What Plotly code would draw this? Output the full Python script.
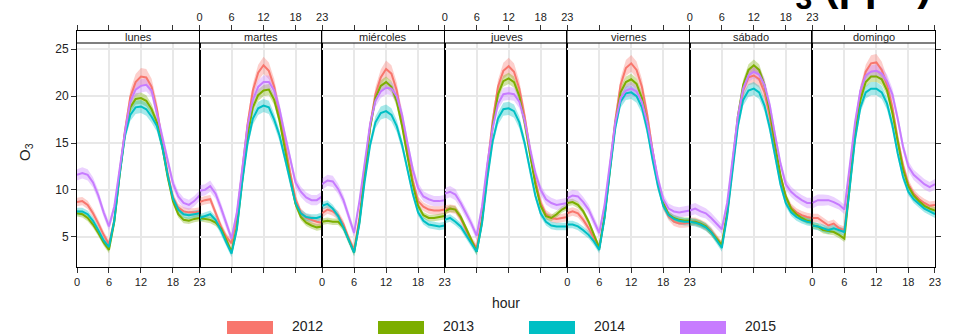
import plotly.graph_objects as go

hours = list(range(24))
days = ["lunes", "martes", "miércoles", "jueves", "viernes", "sábado", "domingo"]
years = ["2012", "2013", "2014", "2015"]
colors = ["#F8766D", "#7CAE00", "#00BFC4", "#C77CFF"]
band_colors = ["rgba(248,118,109,0.35)", "rgba(124,174,0,0.35)",
               "rgba(0,191,196,0.35)", "rgba(199,124,255,0.35)"]
x_tickvals = [0, 6, 12, 18, 23]
x_ticktext = ["0", "6", "12", "18", "23"]
y_tickvals = [5, 10, 15, 20, 25]

o3_2012 = {
    "lunes":     [8.7, 8.8, 8.4, 7.5, 6.4, 5.2, 4.2, 6.8, 11.8, 16.3, 19.9, 21.5, 22.1, 22.0, 21.0, 18.6, 15.0, 11.8, 9.2, 8.1, 7.7, 7.6, 7.6, 7.7],
    "martes":    [8.7, 8.9, 9.0, 7.6, 6.1, 5.0, 4.3, 7.0, 12.0, 17.0, 20.6, 22.5, 23.3, 22.7, 21.0, 18.2, 15.0, 11.8, 9.0, 7.6, 7.0, 6.8, 6.6, 6.5],
    "miércoles": [7.5, 7.9, 7.7, 7.3, 6.3, 4.8, 3.6, 7.0, 12.0, 16.8, 20.2, 22.0, 22.9, 22.4, 20.6, 17.6, 14.2, 11.0, 8.8, 8.2, 7.9, 7.8, 7.8, 7.9],
    "jueves":    [7.9, 8.0, 7.9, 7.0, 5.7, 4.6, 3.8, 7.0, 12.4, 17.4, 21.0, 22.7, 23.2, 22.6, 20.8, 17.8, 14.2, 11.0, 8.6, 7.4, 7.0, 6.9, 7.0, 7.1],
    "viernes":   [7.5, 7.7, 7.5, 6.8, 5.9, 4.8, 3.8, 7.2, 12.4, 17.4, 21.2, 23.0, 23.5, 22.8, 21.0, 18.0, 14.2, 10.8, 8.4, 7.2, 6.6, 6.4, 6.4, 6.5],
    "sábado":    [6.6, 6.6, 6.4, 6.1, 5.6, 4.9, 4.1, 7.4, 12.4, 17.2, 20.6, 22.0, 22.2, 21.8, 20.4, 17.8, 14.4, 11.2, 9.2, 8.1, 7.6, 7.3, 7.1, 7.0],
    "domingo":   [7.0, 7.0, 6.6, 6.2, 6.4, 5.9, 5.7, 11.0, 16.4, 20.4, 22.6, 23.5, 23.6, 22.8, 21.2, 18.8, 15.4, 12.6, 10.6, 9.6, 9.0, 8.6, 8.3, 8.4],
}
o3_2013 = {
    "lunes":     [7.5, 7.4, 7.0, 6.3, 5.4, 4.4, 3.6, 6.6, 11.6, 16.0, 18.8, 19.7, 19.8, 19.5, 18.6, 17.2, 14.6, 11.4, 8.8, 7.4, 6.8, 6.7, 6.9, 7.0],
    "martes":    [7.0, 6.9, 6.8, 6.5, 5.9, 4.7, 3.4, 6.0, 11.0, 15.8, 18.8, 20.1, 20.6, 20.7, 19.6, 17.4, 14.4, 11.2, 8.5, 7.1, 6.5, 6.2, 6.0, 6.1],
    "miércoles": [6.6, 6.7, 6.6, 6.6, 6.0, 4.6, 3.3, 6.6, 11.8, 16.6, 19.8, 21.1, 21.5, 21.0, 19.4, 16.8, 13.6, 10.6, 8.3, 7.3, 7.0, 7.0, 7.1, 7.2],
    "jueves":    [7.7, 8.0, 7.9, 7.1, 5.9, 4.6, 3.4, 6.6, 12.0, 16.8, 20.2, 21.6, 21.9, 21.5, 20.0, 17.2, 13.8, 10.6, 8.3, 7.2, 7.0, 7.4, 7.9, 8.2],
    "viernes":   [8.6, 8.7, 8.4, 7.7, 6.6, 5.2, 3.8, 7.2, 12.2, 17.0, 20.4, 21.5, 21.8, 21.3, 19.8, 17.2, 13.8, 10.8, 8.6, 7.4, 7.0, 6.8, 6.7, 6.7],
    "sábado":    [6.6, 6.6, 6.4, 6.1, 5.5, 4.8, 4.1, 7.6, 12.8, 17.8, 21.2, 22.8, 23.3, 22.8, 21.2, 18.4, 14.8, 11.6, 9.3, 8.0, 7.4, 7.0, 6.7, 6.6],
    "domingo":   [6.2, 6.1, 5.7, 5.6, 5.5, 5.2, 4.8, 10.4, 15.8, 19.6, 21.5, 22.1, 22.1, 21.8, 20.6, 18.2, 15.0, 12.2, 10.4, 9.4, 8.8, 8.3, 8.0, 7.8],
}
o3_2014 = {
    "lunes":     [7.7, 7.7, 7.4, 6.7, 5.7, 4.6, 3.9, 6.7, 11.6, 15.8, 18.0, 18.8, 18.9, 18.6, 17.8, 16.8, 14.6, 11.6, 9.1, 7.9, 7.4, 7.3, 7.4, 7.5],
    "martes":    [7.0, 7.2, 7.4, 6.8, 5.7, 4.4, 3.2, 5.8, 10.8, 15.0, 17.6, 18.7, 19.0, 18.8, 17.5, 15.8, 13.4, 10.8, 8.6, 7.5, 7.1, 7.0, 7.0, 7.2],
    "miércoles": [8.3, 8.5, 8.0, 7.2, 6.0, 4.6, 3.3, 6.4, 11.0, 14.8, 17.2, 18.2, 18.4, 18.0, 16.8, 14.8, 12.2, 9.6, 7.6, 6.7, 6.3, 6.2, 6.1, 6.2],
    "jueves":    [6.8, 7.0, 6.6, 6.1, 5.2, 4.3, 3.4, 6.4, 11.2, 15.2, 17.6, 18.6, 18.7, 18.4, 17.2, 15.0, 12.0, 9.4, 7.5, 6.6, 6.2, 6.1, 6.1, 6.1],
    "viernes":   [6.3, 6.3, 6.1, 5.7, 5.2, 4.5, 3.6, 7.0, 12.0, 16.6, 19.4, 20.3, 20.4, 20.0, 18.8, 16.4, 13.2, 10.4, 8.3, 7.3, 6.9, 6.7, 6.6, 6.6],
    "sábado":    [6.6, 6.5, 6.3, 6.0, 5.5, 4.7, 3.8, 7.2, 12.2, 16.8, 19.6, 20.6, 20.8, 20.4, 19.0, 16.6, 13.6, 10.6, 8.6, 7.6, 7.1, 6.8, 6.6, 6.5],
    "domingo":   [6.2, 6.1, 5.9, 5.7, 5.9, 5.7, 5.5, 10.2, 15.4, 18.8, 20.4, 20.8, 20.8, 20.4, 19.2, 16.9, 13.9, 11.4, 9.8, 9.0, 8.5, 8.0, 7.7, 7.4],
}
o3_2015 = {
    "lunes":     [11.6, 11.8, 11.6, 10.8, 9.4, 7.6, 6.1, 8.2, 12.2, 16.2, 19.4, 20.7, 21.1, 21.2, 20.6, 18.2, 15.6, 13.2, 10.7, 9.3, 8.6, 8.4, 8.8, 9.4],
    "martes":    [9.9, 10.0, 10.4, 9.6, 8.1, 6.4, 4.8, 7.6, 12.4, 16.8, 19.6, 21.0, 21.5, 21.5, 20.6, 18.6, 15.9, 13.2, 10.8, 9.8, 9.2, 8.9, 8.9, 9.3],
    "miércoles": [10.6, 11.0, 10.9, 10.1, 8.9, 7.2, 5.4, 8.8, 13.2, 17.0, 19.5, 20.5, 20.9, 20.8, 20.0, 18.0, 15.0, 12.2, 10.2, 9.3, 9.0, 8.8, 8.8, 8.9],
    "jueves":    [9.6, 9.8, 9.5, 8.6, 7.5, 6.4, 5.1, 8.2, 12.8, 16.6, 19.2, 20.2, 20.3, 20.2, 19.4, 17.4, 14.4, 11.8, 10.0, 9.0, 8.6, 8.4, 8.5, 8.6],
    "viernes":   [9.1, 9.4, 9.3, 8.7, 7.9, 6.6, 5.4, 8.4, 13.0, 17.2, 19.8, 20.6, 20.8, 20.5, 19.4, 17.2, 14.2, 11.2, 9.0, 8.0, 7.7, 7.6, 7.7, 7.8],
    "sábado":    [7.8, 8.0, 7.7, 7.5, 7.0, 6.4, 5.8, 8.6, 13.2, 17.8, 20.8, 22.2, 22.6, 22.3, 21.2, 19.0, 15.8, 12.8, 10.6, 9.8, 9.3, 8.9, 8.6, 8.6],
    "domingo":   [8.6, 8.9, 8.9, 8.9, 8.7, 8.4, 7.9, 12.4, 17.2, 20.6, 22.2, 22.6, 22.7, 22.4, 21.6, 20.2, 17.6, 14.6, 12.5, 11.6, 11.1, 10.6, 10.3, 10.6],
}

# confidence-interval half widths by hour
ci_2012 = [0.45, 0.45, 0.45, 0.45, 0.45, 0.4, 0.4, 0.45, 0.55, 0.65, 0.75, 0.85, 0.9, 0.9, 0.85, 0.8, 0.7, 0.6, 0.5, 0.45, 0.45, 0.45, 0.45, 0.45]
ci_2013 = [0.35, 0.35, 0.35, 0.35, 0.35, 0.35, 0.35, 0.4, 0.45, 0.5, 0.55, 0.6, 0.6, 0.6, 0.55, 0.5, 0.45, 0.4, 0.35, 0.35, 0.35, 0.35, 0.35, 0.35]
ci_2014 = [0.4, 0.4, 0.4, 0.4, 0.4, 0.4, 0.4, 0.45, 0.5, 0.55, 0.65, 0.7, 0.7, 0.7, 0.65, 0.6, 0.5, 0.45, 0.4, 0.4, 0.4, 0.4, 0.4, 0.4]
ci_2015 = [0.6, 0.6, 0.6, 0.55, 0.55, 0.5, 0.5, 0.5, 0.55, 0.6, 0.65, 0.7, 0.7, 0.7, 0.7, 0.65, 0.6, 0.55, 0.55, 0.55, 0.55, 0.55, 0.55, 0.55]

series = [o3_2012, o3_2013, o3_2014, o3_2015]
cis = [ci_2012, ci_2013, ci_2014, ci_2015]

# layout constants (pixels)
W, H = 955, 334
ML, MR, MT, MB = 77, 20, 31, 67
Y_RANGE = [1.77, 26.95]
STRIP_BOTTOM = 25.67
FONT = "Liberation Sans, Arial, sans-serif"
TXT = "#222222"
GRID = "#e8e8e8"

def px_x(X):
    return (X - ML) / (W - ML - MR)

def px_y(Y):
    return (H - MB - Y) / (H - MT - MB)

fig = go.Figure()
n = len(days)
shapes = []
annotations = []

for i, day in enumerate(days):
    k = i + 1
    xa = "x" if k == 1 else f"x{k}"
    ya = "y" if k == 1 else f"y{k}"
    for s, ci, col, bcol, yr in zip(series, cis, colors, band_colors, years):
        vals = s[day]
        upper = [v + c for v, c in zip(vals, ci)]
        lower = [v - c for v, c in zip(vals, ci)]
        fig.add_trace(go.Scatter(
            x=hours + hours[::-1], y=upper + lower[::-1],
            fill="toself", fillcolor=bcol, line=dict(width=0),
            mode="lines", hoverinfo="skip", showlegend=False,
            xaxis=xa, yaxis=ya))
    for s, col, yr in zip(series, colors, years):
        fig.add_trace(go.Scatter(
            x=hours, y=s[day], mode="lines",
            line=dict(color=col, width=2), name=yr, showlegend=False,
            xaxis=xa, yaxis=ya))

    top_labels = (i % 2 == 1)
    xaxis = dict(
        domain=[i / n, (i + 1) / n], range=[0, 23], anchor=ya,
        tickvals=x_tickvals, ticktext=x_ticktext,
        side="top" if top_labels else "bottom",
        ticks="outside", ticklen=5, tickcolor="#333", tickwidth=1,
        showline=True, linecolor="black", linewidth=1, mirror="ticks",
        showgrid=True, gridcolor=GRID, gridwidth=1.5, zeroline=False,
        tickfont=dict(family=FONT, size=11, color=TXT),
    )
    yaxis = dict(
        domain=[0, 1], range=Y_RANGE, anchor=xa,
        tickvals=y_tickvals, showgrid=True, gridcolor=GRID, gridwidth=1.5,
        zeroline=False, showline=True, linecolor="black", linewidth=1,
        mirror=True, tickfont=dict(family=FONT, size=12, color=TXT),
    )
    if k == 1:
        yaxis.update(ticks="outside", ticklen=5, tickcolor="#333", showticklabels=True)
    elif k == n:
        yaxis.update(side="right", ticks="outside", ticklen=5, tickcolor="#333",
                     showticklabels=False)
    else:
        yaxis.update(ticks="", showticklabels=False)
    fig.layout["xaxis" if k == 1 else f"xaxis{k}"] = xaxis
    fig.layout["yaxis" if k == 1 else f"yaxis{k}"] = yaxis

    shapes.append(dict(type="rect", xref=xa, yref=ya, x0=0, x1=23,
                       y0=STRIP_BOTTOM, y1=Y_RANGE[1], fillcolor="white",
                       line=dict(width=0), layer="between"))
    annotations.append(dict(text=day, xref=xa, yref=ya, x=11.5,
                            y=(STRIP_BOTTOM + Y_RANGE[1]) / 2, showarrow=False,
                            xanchor="center", yanchor="middle",
                            font=dict(family=FONT, size=11, color=TXT)))

shapes.append(dict(type="line", xref="paper", yref="y", x0=0, x1=1,
                   y0=STRIP_BOTTOM, y1=STRIP_BOTTOM,
                   line=dict(color="black", width=1), layer="above"))

# manual legend
LEG_X0, LEG_STEP, LEG_W, LEG_Y0, LEG_Y1 = 227, 151, 46, 321, 345
for j, (yr, col) in enumerate(zip(years, colors)):
    x0 = LEG_X0 + j * LEG_STEP
    shapes.append(dict(type="rect", xref="paper", yref="paper",
                       x0=px_x(x0), x1=px_x(x0 + LEG_W),
                       y0=px_y(LEG_Y1), y1=px_y(LEG_Y0),
                       fillcolor=col, line=dict(width=0)))
    annotations.append(dict(text=yr, xref="paper", yref="paper",
                            x=px_x(x0 + 63), y=px_y(326), xanchor="left",
                            yanchor="middle", showarrow=False,
                            font=dict(family=FONT, size=14, color=TXT)))

annotations.append(dict(text="hour", xref="paper", yref="paper", x=0.5,
                        y=px_y(303), xanchor="center", yanchor="middle",
                        showarrow=False, font=dict(family=FONT, size=14, color=TXT)))
annotations.append(dict(text="O<sub>3</sub>", xref="paper", yref="paper",
                        x=px_x(25), y=px_y(152), xanchor="center",
                        yanchor="middle", textangle=-90, showarrow=False,
                        font=dict(family=FONT, size=15, color=TXT)))
annotations.append(dict(text="O<sub>3</sub> (ppb)", xref="paper", yref="paper",
                        x=px_x(934), y=px_y(16.5), xanchor="right",
                        yanchor="bottom", showarrow=False,
                        font=dict(family="Liberation Sans, Arial, sans-serif",
                                  size=43, color="black", weight="bold")))

fig.update_layout(
    width=W, height=H,
    margin=dict(l=ML, r=MR, t=MT, b=MB, pad=0),
    paper_bgcolor="white", plot_bgcolor="white",
    shapes=shapes, annotations=annotations, showlegend=False,
)

fig.write_html("out.html", config={"displayModeBar": False},
               post_script="document.body.style.margin='0';document.body.style.overflow='hidden';")
